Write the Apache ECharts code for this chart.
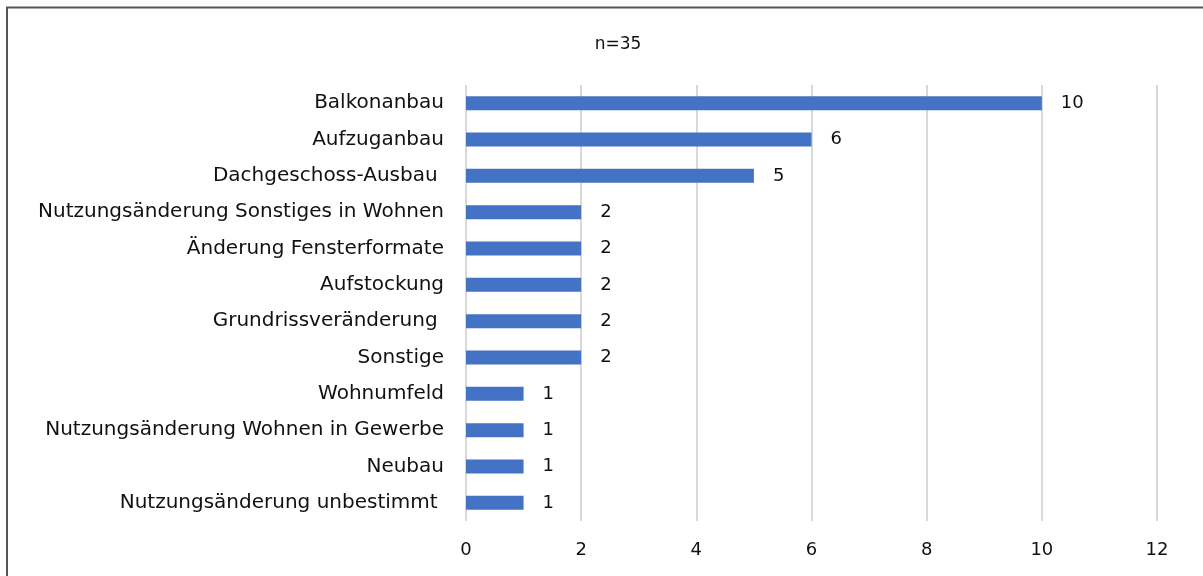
<!DOCTYPE html>
<html>
<head>
<meta charset="utf-8">
<script src="https://cdn.jsdelivr.net/npm/echarts@6/dist/echarts.min.js"></script>
<style>
  html, body { margin: 0; padding: 0; background: #fff; }
  #chart { width: 1203px; height: 576px; }
</style>
</head>
<body>
<div id="chart"></div>
<script>
// Kategorien (von oben nach unten)
const categories = [
  "Balkonanbau",
  "Aufzuganbau",
  "Dachgeschoss-Ausbau ",
  "Nutzungsänderung Sonstiges in Wohnen",
  "Änderung Fensterformate",
  "Aufstockung",
  "Grundrissveränderung ",
  "Sonstige",
  "Wohnumfeld",
  "Nutzungsänderung Wohnen in Gewerbe",
  "Neubau",
  "Nutzungsänderung unbestimmt "
];
const values = [10, 6, 5, 2, 2, 2, 2, 2, 1, 1, 1, 1];
const subtitle = "n=35";

const font = "'DejaVu Sans', sans-serif";

const chart = echarts.init(document.getElementById("chart"));

chart.setOption({
  animation: false,
  title: {
    text: subtitle,
    left: 613,
    top: 31,
    textAlign: "center",
    textStyle: { fontFamily: font, fontSize: 17, fontWeight: "normal", color: "#111" }
  },
  graphic: [
    {
      type: "rect",
      shape: { x: 7, y: 7.5, width: 1210, height: 600 },
      style: { fill: "none", stroke: "#555", lineWidth: 2 },
      silent: true
    }
  ],
  grid: { left: 466, right: 46, top: 85, bottom: 55 },
  xAxis: {
    type: "value",
    min: 0,
    max: 12,
    interval: 2,
    axisLine: { show: false },
    axisTick: { show: false },
    axisLabel: { margin: 20, fontFamily: font, fontSize: 18, color: "#111" },
    splitLine: { lineStyle: { color: "#d9d9d9", width: 2 } }
  },
  yAxis: {
    type: "category",
    inverse: true,
    data: categories,
    axisLine: { show: false },
    axisTick: { show: false },
    axisLabel: { margin: 22, fontFamily: font, fontSize: 20, color: "#111" }
  },
  series: [
    {
      type: "bar",
      data: values,
      barWidth: 14,
      itemStyle: { color: "#4472C4" },
      label: {
        show: true,
        position: "right",
        distance: 19,
        fontFamily: font,
        fontSize: 18,
        color: "#111"
      }
    }
  ]
});
</script>
</body>
</html>
